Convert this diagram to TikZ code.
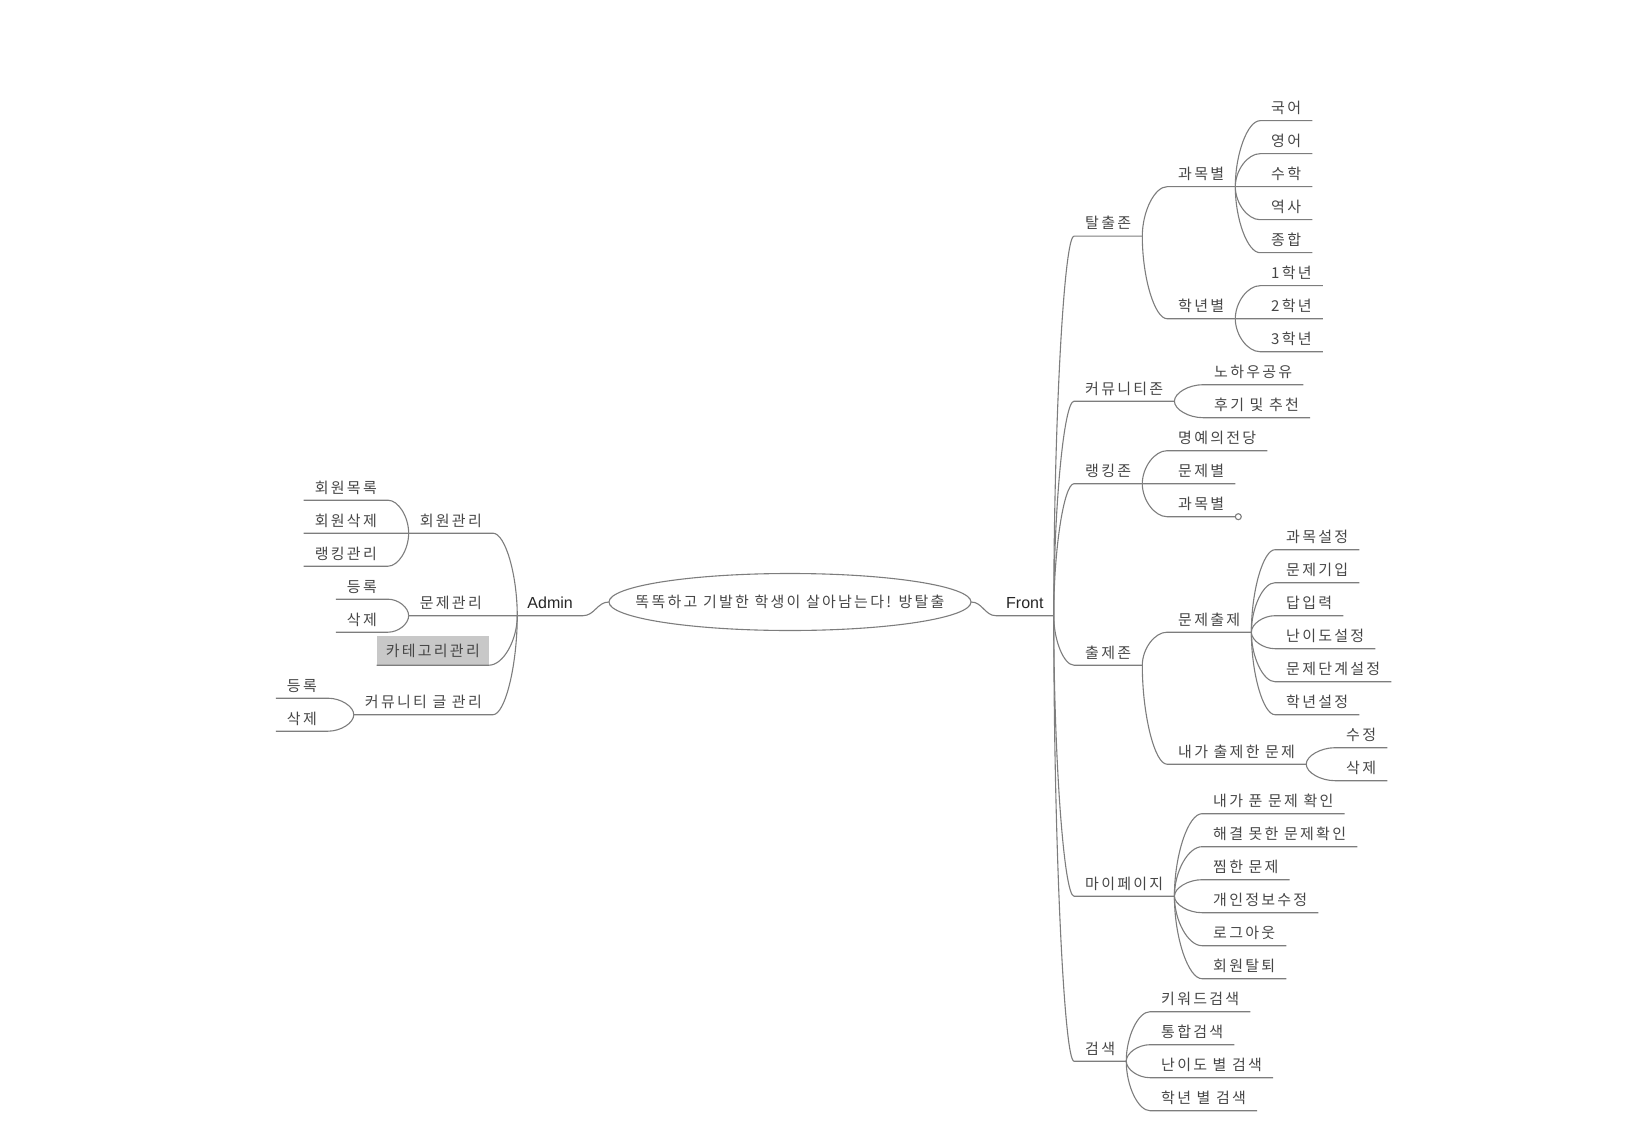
\documentclass[tikz,border=0pt]{standalone}
\usepackage{fontspec}
\setmainfont[LetterSpace=15]{Noto Sans CJK KR}
\newfontfamily\latinfont{Liberation Sans}
\usetikzlibrary{calc}
\definecolor{linegray}{RGB}{125,125,125}
\definecolor{textgray}{RGB}{70,70,70}
\definecolor{boxgray}{RGB}{200,200,200}

\begin{document}
\begin{tikzpicture}[x=1pt,y=-1pt]
\tikzstyle{topic}=[anchor=south west, inner xsep=11pt, inner ysep=7pt, text height=11pt, text depth=0pt, text=textgray, font=\fontsize{15}{18}\selectfont]
\tikzstyle{ltopic}=[topic, anchor=south east]
\tikzstyle{main}=[topic, inner xsep=10pt, text=black!85, font=\latinfont\fontsize{16}{18}\selectfont]
\tikzstyle{branch}=[draw=linegray, line width=1.1pt]
\tikzstyle{fork}=[to path={.. controls ($(\tikztostart)!0.5!(\tikztostart|-\tikztotarget)$) and ($(\tikztostart|-\tikztotarget)!0.5!(\tikztotarget)$) .. (\tikztotarget) \tikztonodes}]
\useasboundingbox (0,0) rectangle (1627,1123);
\node[minimum width=362pt, minimum height=57pt, inner sep=0pt, text=textgray, font=\fontsize{15}{18}\selectfont] (bang) at (790,602) {똑똑하고 기발한 학생이 살아남는다! 방탈출};
\draw[branch] (bang.center) ellipse [x radius=181pt, y radius=28.5pt];
\node[main] (front) at (996,615.7) {Front};
\node[main, anchor=south east] (admin) at (583,615.7) {Admin};
\node[topic] (tal) at (1074,236.2) {탈출존};
\node[topic] (talsub) at (1167,186.7) {과목별};
\node[topic] (kor) at (1260,120.7) {국어};
\node[topic] (eng) at (1260,153.7) {영어};
\node[topic] (math) at (1260,186.7) {수학};
\node[topic] (hist) at (1260,219.7) {역사};
\node[topic] (gen) at (1260,252.7) {종합};
\node[topic] (talgrd) at (1167,318.7) {학년별};
\node[topic] (g1) at (1260,285.7) {1학년};
\node[topic] (g2) at (1260,318.7) {2학년};
\node[topic] (g3) at (1260,351.7) {3학년};
\node[topic] (comm) at (1074,401.2) {커뮤니티존};
\node[topic] (knowhow) at (1203,384.7) {노하우공유};
\node[topic] (review) at (1203,417.7) {후기 및 추천};
\node[topic] (rank) at (1074,483.7) {랭킹존};
\node[topic] (fame) at (1167,450.7) {명예의전당};
\node[topic] (rkprob) at (1167,483.7) {문제별};
\node[topic] (rksub) at (1167,516.7) {과목별};
\node[topic] (make) at (1074,665.2) {출제존};
\node[topic] (mkq) at (1167,632.2) {문제출제};
\node[topic] (mkqsub) at (1275,549.7) {과목설정};
\node[topic] (mkqtxt) at (1275,582.7) {문제기입};
\node[topic] (mkqans) at (1275,615.7) {답입력};
\node[topic] (mkqlvl) at (1275,648.7) {난이도설정};
\node[topic] (mkqstep) at (1275,681.7) {문제단계설정};
\node[topic] (mkqgrd) at (1275,714.7) {학년설정};
\node[topic] (mine) at (1167,764.2) {내가 출제한 문제};
\node[topic] (mineedit) at (1335,747.7) {수정};
\node[topic] (minedel) at (1335,780.7) {삭제};
\node[topic] (my) at (1074,896.2) {마이페이지};
\node[topic] (mysolved) at (1202,813.7) {내가 푼 문제 확인};
\node[topic] (myfail) at (1202,846.7) {해결 못한 문제확인};
\node[topic] (mylike) at (1202,879.7) {찜한 문제};
\node[topic] (myinfo) at (1202,912.7) {개인정보수정};
\node[topic] (mylogout) at (1202,945.7) {로그아웃};
\node[topic] (myquit) at (1202,978.7) {회원탈퇴};
\node[topic] (srch) at (1074,1061.2) {검색};
\node[topic] (srkey) at (1150,1011.7) {키워드검색};
\node[topic] (srall) at (1150,1044.7) {통합검색};
\node[topic] (srlvl) at (1150,1077.7) {난이도 별 검색};
\node[topic] (srgrd) at (1150,1110.7) {학년 별 검색};
\node[ltopic] (usr) at (493,533.2) {회원관리};
\node[ltopic] (usrlist) at (388,500.2) {회원목록};
\node[ltopic] (usrdel) at (388,533.2) {회원삭제};
\node[ltopic] (usrrank) at (388,566.2) {랭킹관리};
\node[ltopic] (prob) at (493,615.7) {문제관리};
\node[ltopic] (probadd) at (388,599.2) {등록};
\node[ltopic] (probdel) at (388,632.2) {삭제};
\node[ltopic, fill=boxgray, inner xsep=9pt, minimum height=29pt] (cat) at (489,665.2) {카테고리관리};
\node[ltopic] (post) at (493,714.7) {커뮤니티 글 관리};
\node[ltopic] (postadd) at (328,698.2) {등록};
\node[ltopic] (postdel) at (328,731.2) {삭제};
\draw[branch] (bang.east) to[out=0,in=180] (front.south west) -- (front.south east);
\draw[branch] (bang.west) to[out=180,in=0] (admin.south east) -- (admin.south west);
\draw[branch] (front.south east) to[fork] (tal.south west) -- (tal.south east);
\draw[branch] (tal.south east) to[fork] (talsub.south west) -- (talsub.south east);
\draw[branch] (talsub.south east) to[fork] (kor.south west) -- (kor.south east);
\draw[branch] (talsub.south east) to[fork] (eng.south west) -- (eng.south east);
\draw[branch] (talsub.south east) to[fork] (math.south west) -- (math.south east);
\draw[branch] (talsub.south east) to[fork] (hist.south west) -- (hist.south east);
\draw[branch] (talsub.south east) to[fork] (gen.south west) -- (gen.south east);
\draw[branch] (tal.south east) to[fork] (talgrd.south west) -- (talgrd.south east);
\draw[branch] (talgrd.south east) to[fork] (g1.south west) -- (g1.south east);
\draw[branch] (talgrd.south east) to[fork] (g2.south west) -- (g2.south east);
\draw[branch] (talgrd.south east) to[fork] (g3.south west) -- (g3.south east);
\draw[branch] (front.south east) to[fork] (comm.south west) -- (comm.south east);
\draw[branch] (comm.south east) to[fork] (knowhow.south west) -- (knowhow.south east);
\draw[branch] (comm.south east) to[fork] (review.south west) -- (review.south east);
\draw[branch] (front.south east) to[fork] (rank.south west) -- (rank.south east);
\draw[branch] (rank.south east) to[fork] (fame.south west) -- (fame.south east);
\draw[branch] (rank.south east) to[fork] (rkprob.south west) -- (rkprob.south east);
\draw[branch] (rank.south east) to[fork] (rksub.south west) -- (rksub.south east);
\draw[branch, fill=white] ([xshift=3pt]rksub.south east) circle (3pt);
\draw[branch] (front.south east) to[fork] (make.south west) -- (make.south east);
\draw[branch] (make.south east) to[fork] (mkq.south west) -- (mkq.south east);
\draw[branch] (mkq.south east) to[fork] (mkqsub.south west) -- (mkqsub.south east);
\draw[branch] (mkq.south east) to[fork] (mkqtxt.south west) -- (mkqtxt.south east);
\draw[branch] (mkq.south east) to[fork] (mkqans.south west) -- (mkqans.south east);
\draw[branch] (mkq.south east) to[fork] (mkqlvl.south west) -- (mkqlvl.south east);
\draw[branch] (mkq.south east) to[fork] (mkqstep.south west) -- (mkqstep.south east);
\draw[branch] (mkq.south east) to[fork] (mkqgrd.south west) -- (mkqgrd.south east);
\draw[branch] (make.south east) to[fork] (mine.south west) -- (mine.south east);
\draw[branch] (mine.south east) to[fork] (mineedit.south west) -- (mineedit.south east);
\draw[branch] (mine.south east) to[fork] (minedel.south west) -- (minedel.south east);
\draw[branch] (front.south east) to[fork] (my.south west) -- (my.south east);
\draw[branch] (my.south east) to[fork] (mysolved.south west) -- (mysolved.south east);
\draw[branch] (my.south east) to[fork] (myfail.south west) -- (myfail.south east);
\draw[branch] (my.south east) to[fork] (mylike.south west) -- (mylike.south east);
\draw[branch] (my.south east) to[fork] (myinfo.south west) -- (myinfo.south east);
\draw[branch] (my.south east) to[fork] (mylogout.south west) -- (mylogout.south east);
\draw[branch] (my.south east) to[fork] (myquit.south west) -- (myquit.south east);
\draw[branch] (front.south east) to[fork] (srch.south west) -- (srch.south east);
\draw[branch] (srch.south east) to[fork] (srkey.south west) -- (srkey.south east);
\draw[branch] (srch.south east) to[fork] (srall.south west) -- (srall.south east);
\draw[branch] (srch.south east) to[fork] (srlvl.south west) -- (srlvl.south east);
\draw[branch] (srch.south east) to[fork] (srgrd.south west) -- (srgrd.south east);
\draw[branch] (admin.south west) to[fork] (usr.south east) -- (usr.south west);
\draw[branch] (usr.south west) to[fork] (usrlist.south east) -- (usrlist.south west);
\draw[branch] (usr.south west) to[fork] (usrdel.south east) -- (usrdel.south west);
\draw[branch] (usr.south west) to[fork] (usrrank.south east) -- (usrrank.south west);
\draw[branch] (admin.south west) to[fork] (prob.south east) -- (prob.south west);
\draw[branch] (prob.south west) to[fork] (probadd.south east) -- (probadd.south west);
\draw[branch] (prob.south west) to[fork] (probdel.south east) -- (probdel.south west);
\draw[branch] (admin.south west) to[fork] (cat.south east) -- (cat.south west);
\draw[branch] (admin.south west) to[fork] (post.south east) -- (post.south west);
\draw[branch] (post.south west) to[fork] (postadd.south east) -- (postadd.south west);
\draw[branch] (post.south west) to[fork] (postdel.south east) -- (postdel.south west);
\end{tikzpicture}
\end{document}
